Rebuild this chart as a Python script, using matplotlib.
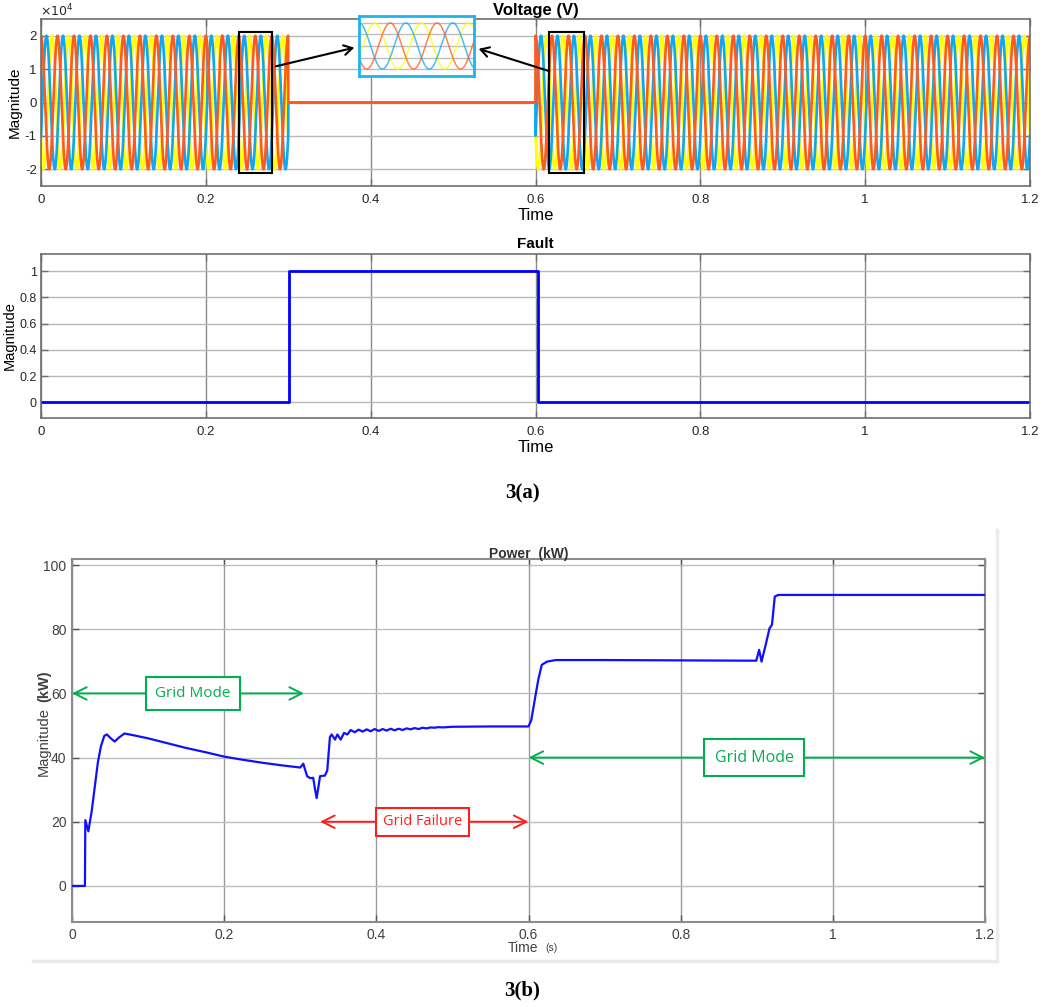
import numpy as np
import matplotlib.pyplot as plt
from matplotlib.patches import Rectangle
from matplotlib.lines import Line2D

# -------------------------------
# DATA
# -------------------------------
# three phase voltage: 20 kV peak, 50 Hz, zero during the fault
v_peak = 2.0e4
v_freq = 50.0
v_phase_deg = [120.0, -120.0, 0.0]          # yellow, blue, orange
fault_start = 0.3
fault_end = 0.6
t_end = 1.2

# fault signal
fault_t = [0.0, 0.301, 0.301, 0.603, 0.603, 1.2]
fault_val = [0, 0, 1, 1, 0, 0]

# power (kW)
power_t = [0.0, 0.017, 0.0175, 0.0215, 0.026, 0.030, 0.034, 0.038, 0.0425, 0.046,
           0.050, 0.056, 0.062, 0.069, 0.080, 0.100, 0.125, 0.150, 0.175, 0.200,
           0.225, 0.250, 0.275, 0.300, 0.304, 0.309, 0.313, 0.317, 0.3195, 0.3216,
           0.324, 0.326, 0.3325, 0.3355, 0.339, 0.3413, 0.3457, 0.3488, 0.3532, 0.3575,
           0.3619, 0.3663, 0.3715, 0.3768, 0.382, 0.3873, 0.3925, 0.3978, 0.403, 0.4083,
           0.4135, 0.4188, 0.424, 0.4293, 0.4345, 0.4398, 0.445, 0.4503, 0.4555, 0.4608,
           0.466, 0.4713, 0.4765, 0.4818, 0.487, 0.500, 0.550, 0.600, 0.6037, 0.6082,
           0.6128, 0.6174, 0.6242, 0.6357, 0.700, 0.800, 0.8994, 0.9031, 0.9063, 0.9122,
           0.9168, 0.9200, 0.9237, 0.9282, 1.000, 1.200]
power_kw = [0.0, 0.0, 20.5, 17.0, 23.5, 31.0, 38.5, 43.5, 46.8, 47.2,
            46.2, 45.0, 46.3, 47.5, 47.0, 46.0, 44.5, 43.0, 41.7, 40.3,
            39.3, 38.4, 37.6, 36.9, 38.1, 34.2, 33.6, 33.7, 30.0, 27.4,
            31.0, 34.2, 34.4, 36.0, 46.4, 47.2, 45.6, 47.2, 45.6, 47.7,
            47.2, 48.6, 47.9, 48.7, 48.1, 48.8, 48.2, 48.9, 48.3, 48.9,
            48.4, 49.0, 48.5, 49.0, 48.6, 49.1, 48.8, 49.2, 48.9, 49.3,
            49.1, 49.4, 49.3, 49.5, 49.4, 49.6, 49.7, 49.7, 51.7, 58.0,
            64.2, 68.9, 69.9, 70.4, 70.4, 70.3, 70.2, 73.6, 69.9, 75.6,
            80.3, 81.4, 90.2, 90.7, 90.7, 90.7]

x_ticks = [0, 0.2, 0.4, 0.6, 0.8, 1.0, 1.2]
x_labels = ["0", "0.2", "0.4", "0.6", "0.8", "1", "1.2"]

# -------------------------------
# FIGURE HELPERS (pixel positions of the reference)
# -------------------------------
W, H = 1045, 1007
fig = plt.figure(figsize=(W / 100, H / 100), dpi=100)


def fx(px):
    return px / W


def fy(py):
    return 1 - py / H


def axes_px(left, top, right, bottom):
    return fig.add_axes([fx(left), fy(bottom), (right - left) / W, (bottom - top) / H])


sans = ["Liberation Sans", "DejaVu Sans"]
narrow = ["Liberation Sans Narrow", "Liberation Sans", "DejaVu Sans"]
plt.rcParams["font.family"] = sans

c_yellow = "#FFFF00"
c_blue = "#12A6EE"
c_orange = "#FF5A1E"
c_tick = "#262626"
c_edge = "#6e6e6e"


def matlab_style(ax, vgrid="#8a8a8a", hgrid="#b8b8b8", fontsize=9.5, family=None, pad=3):
    for s in ax.spines.values():
        s.set_color(c_edge)
        s.set_linewidth(1.2)
    ax.tick_params(direction="in", top=True, right=True, length=5, width=1,
                   color=c_edge, labelcolor=c_tick, labelsize=fontsize, pad=pad)
    ax.tick_params(axis="x", pad=6)
    ax.xaxis.grid(True, color=vgrid, lw=1)
    ax.yaxis.grid(True, color=hgrid, lw=1)
    ax.set_axisbelow(True)
    if family:
        for lab in ax.get_xticklabels() + ax.get_yticklabels():
            lab.set_family(family)


# -------------------------------
# VOLTAGE
# -------------------------------
t = np.linspace(0, t_end, 12001)
on = (t < fault_start) | (t >= fault_end)
phases = [v_peak * np.cos(2 * np.pi * v_freq * t + np.deg2rad(p)) * on for p in v_phase_deg]
colors = [c_yellow, c_blue, c_orange]

ax_v = axes_px(41, 19, 1030, 186)
for y, c in zip(phases, colors):
    ax_v.plot(t, y, color=c, lw=1.9)
ax_v.set_xlim(0, 1.2)
ax_v.set_ylim(-2.5e4, 2.5e4)
ax_v.set_xticks(x_ticks)
ax_v.set_xticklabels(x_labels)
ax_v.set_yticks([-2e4, -1e4, 0, 1e4, 2e4])
ax_v.set_yticklabels(["-2", "-1", "0", "1", "2"])
matlab_style(ax_v)
ax_v.set_title("Voltage (V)", fontsize=12, fontweight="bold", pad=3)
ax_v.set_xlabel("Time", fontsize=12, labelpad=1)
ax_v.set_ylabel("Magnitude", fontsize=11)
ax_v.yaxis.set_label_coords(-(41 - 22) / 989, 0.5)
fig.text(fx(40), fy(11), r"$\times10^{4}$", fontsize=9, color=c_tick, va="center")

# zoom boxes
ax_v.add_patch(Rectangle((0.240, -2.12e4), 0.040, 4.24e4, fill=False, ec="black", lw=1.5, zorder=5))
ax_v.add_patch(Rectangle((0.616, -2.12e4), 0.043, 4.24e4, fill=False, ec="black", lw=1.5, zorder=5))

# inset
ax_in = axes_px(359, 16, 474, 76)
for y, c in zip(phases, colors):
    ax_in.plot(t, y, color=c, lw=1.1, alpha=0.75)
ax_in.set_xlim(0.2467, 0.2957)
ax_in.set_ylim(-2.6e4, 2.6e4)
ax_in.set_xticks([])
ax_in.set_yticks([-2e4, -1e4, 0, 1e4, 2e4])
ax_in.tick_params(left=False, labelleft=False)
ax_in.yaxis.grid(True, color="#bdbdbd", lw=1)
for s in ax_in.spines.values():
    s.set_color("#1eb4ec")
    s.set_linewidth(2)

arrow_kw = dict(arrowstyle="->,head_length=0.6,head_width=0.35", color="black", lw=1.5)
fig.add_artist(plt.Annotation("", xy=(fx(357), fy(47)), xycoords="figure fraction",
                              xytext=(fx(273), fy(67)), textcoords="figure fraction",
                              arrowprops=arrow_kw))
fig.add_artist(plt.Annotation("", xy=(fx(476), fy(48)), xycoords="figure fraction",
                              xytext=(fx(552), fy(72)), textcoords="figure fraction",
                              arrowprops=arrow_kw))

# -------------------------------
# FAULT
# -------------------------------
ax_f = axes_px(41, 254, 1030, 418)
ax_f.plot(fault_t, fault_val, color="#0000ff", lw=2)
ax_f.set_xlim(0, 1.2)
ax_f.set_ylim(-0.12, 1.13)
ax_f.set_xticks(x_ticks)
ax_f.set_xticklabels(x_labels)
ax_f.set_yticks([0, 0.2, 0.4, 0.6, 0.8, 1])
ax_f.set_yticklabels(["0", "0.2", "0.4", "0.6", "0.8", "1"])
matlab_style(ax_f)
ax_f.tick_params(axis="y", pad=3, labelsize=9)
ax_f.set_title("Fault", fontsize=11, fontweight="bold", pad=4)
ax_f.set_xlabel("Time", fontsize=12, labelpad=1)
ax_f.set_ylabel("Magnitude", fontsize=10.5)
ax_f.yaxis.set_label_coords(-(41 - 17) / 989, 0.5)

fig.text(0.5, fy(493), "3(a)", family=["Liberation Serif", "DejaVu Serif"],
         fontsize=15, fontweight="bold", ha="center", va="center")

# -------------------------------
# POWER
# -------------------------------
ax_p = axes_px(72, 559, 985, 922)
ax_p.plot(power_t, power_kw, color="#1010ff", lw=1.6, zorder=3)
ax_p.set_xlim(0, 1.2)
ax_p.set_ylim(-11.25, 101.9)
ax_p.set_xticks(x_ticks)
ax_p.set_xticklabels(x_labels)
ax_p.set_yticks([0, 20, 40, 60, 80, 100])
matlab_style(ax_p, vgrid="#9a9a9a", hgrid="#bdbdbd", fontsize=10, family=narrow)
ax_p.tick_params(pad=4, colors="#555555", labelcolor="#404040")
for s in ax_p.spines.values():
    s.set_color("#8c8c8c")
    s.set_linewidth(1.5)
ax_p.set_title("Power  (kW)", fontsize=10, fontweight="bold", family=narrow, pad=1, color="#333333")

fig.text(fx(44), fy(742), "Magnitude", rotation=90, fontsize=10.5, family=narrow,
         color="#404040", ha="center", va="center")
fig.text(fx(44), fy(686), "(kW)", rotation=90, fontsize=10.5, family=narrow,
         fontweight="bold", color="#404040", ha="center", va="center")
fig.text(fx(523), fy(948), "Time", fontsize=10, family=narrow, color="#404040", ha="center", va="center")
fig.text(fx(552), fy(948), "(s)", fontsize=7.5, family=narrow, color="#404040", ha="center", va="center")

# mode annotations
green = "#00B050"
red = "#FF1E1E"
note_font = ["Open Sans", "DejaVu Sans"]


def span_note(x0, x1, y, xt, text, color, fs, pad):
    ax_p.annotate("", xy=(x0, y), xytext=(x1, y),
                  arrowprops=dict(arrowstyle="<->,head_length=0.9,head_width=0.45",
                                  color=color, lw=1.4, shrinkA=0, shrinkB=0), zorder=4)
    ax_p.text(xt, y, text, color=color, fontsize=fs, family=note_font, ha="center", va="center",
              zorder=6, bbox=dict(boxstyle="square,pad=%s" % pad, fc="white", ec=color, lw=1.5))


span_note(0.0, 0.305, 60, 0.159, "Grid Mode", green, 11, 0.6)
span_note(0.326, 0.600, 20, 0.4605, "Grid Failure", red, 10.5, 0.45)
span_note(0.600, 1.200, 40, 0.8965, "Grid Mode", green, 11.5, 0.65)

# screenshot frame shadow
fig.add_artist(Line2D([fx(997), fx(997)], [fy(530), fy(961)], color="#ebebeb", lw=2.5))
fig.add_artist(Line2D([fx(33), fx(997)], [fy(961), fy(961)], color="#ebebeb", lw=2.5))

fig.text(0.5, fy(990), "3(b)", family=["Liberation Serif", "DejaVu Serif"],
         fontsize=15, fontweight="bold", ha="center", va="center")

plt.savefig("out.png", dpi=100)
plt.close()
